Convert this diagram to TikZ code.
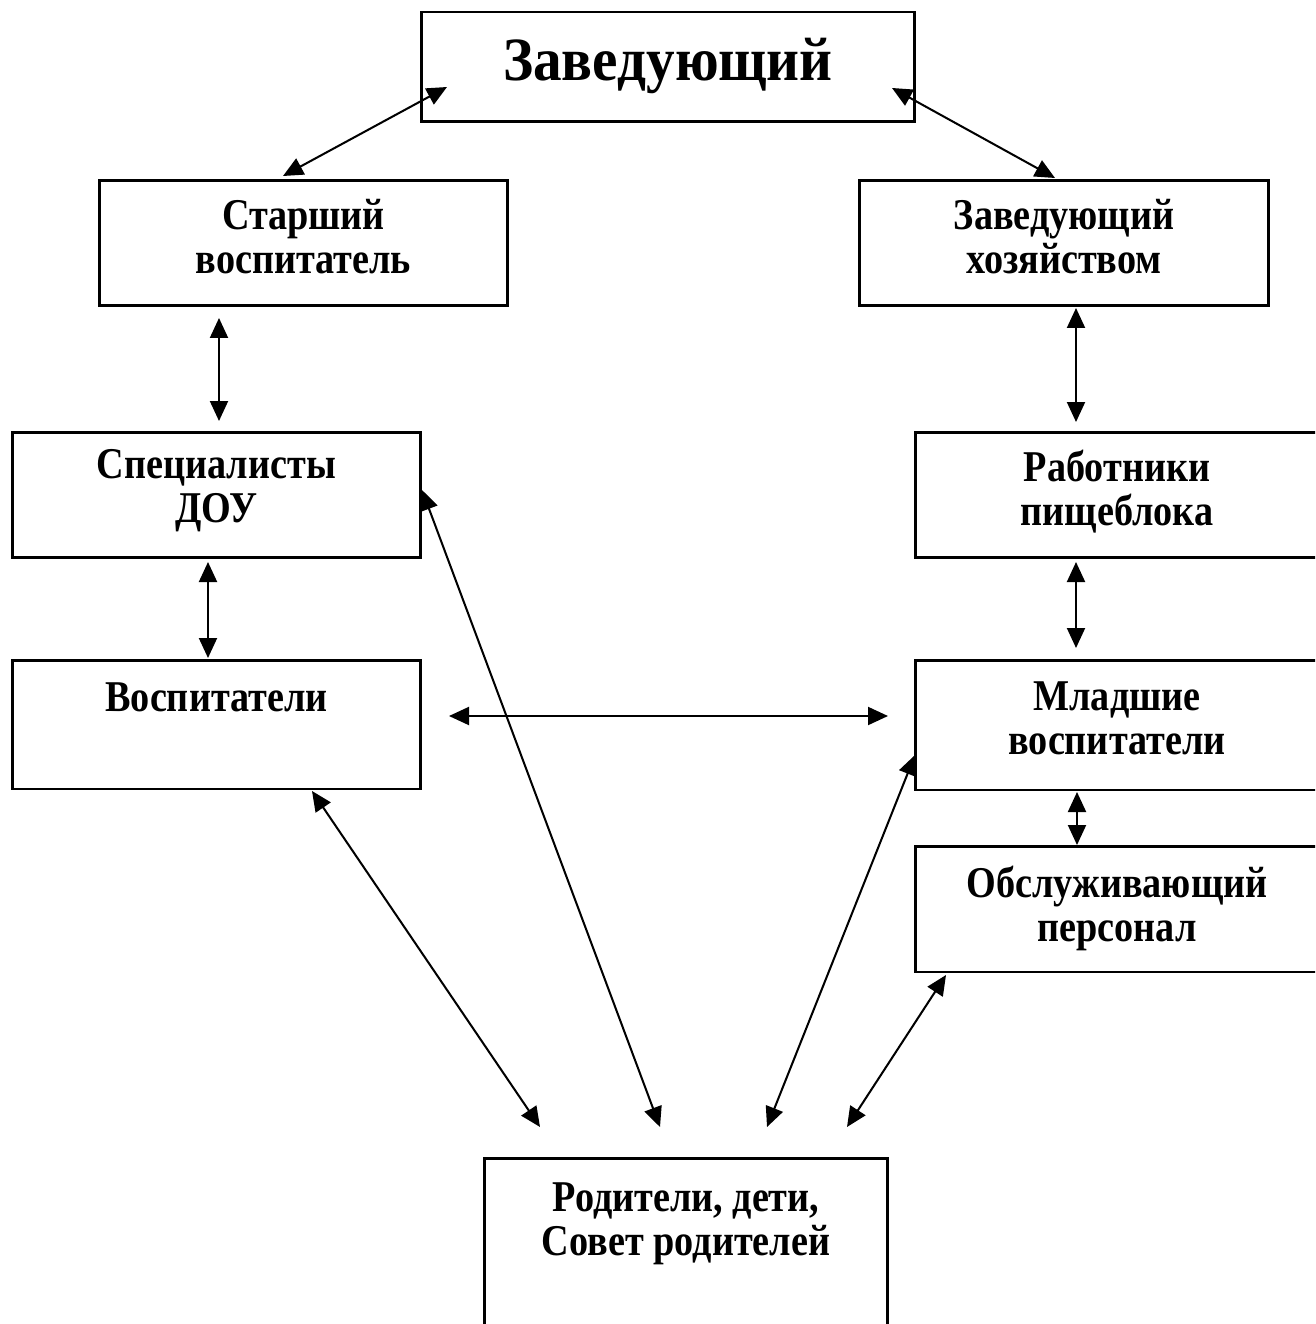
\documentclass[tikz,border=0pt]{standalone}
\usepackage{fontspec}
\setmainfont{Liberation Serif}
\newfontfamily\boxfont[FakeStretch=0.87]{Liberation Serif}
\newfontfamily\headfont[FakeStretch=0.93]{Liberation Serif}
\usetikzlibrary{arrows.meta, positioning, calc}

\begin{document}
\begin{tikzpicture}[x=0.02cm, y=-0.02cm,
        box/.style={draw, line width=1.7pt, minimum width=8.18cm, minimum height=2.52cm, inner sep=0pt},
        lbl/.style={align=center, inner sep=0pt, font=\boxfont\bfseries\fontsize{25}{25}\selectfont},
        link/.style={line width=1.15pt, arrows={Triangle[length=0.4cm, width=0.36cm]-Triangle[length=0.4cm, width=0.36cm]}}]
    \useasboundingbox (0, 0) rectangle (1315, 1324);
    \clip (0, 0) rectangle (1315, 1324);
    % boxes
    \node [box, minimum width=9.88cm, minimum height=2.2cm] (zav) at (668, 67) {};
    \node [box] (star) at (303.5, 243) {};
    \node [box] (hoz) at (1064, 243) {};
    \node [box] (spec) at (216.5, 495) {};
    \node [box, minimum width=8.08cm] (rab) at (1117, 495) {};
    \node [box, minimum height=2.58cm] (vosp) at (216.5, 724.5) {};
    \node [box, minimum width=8.08cm, minimum height=2.6cm] (mlad) at (1117, 725) {};
    \node [box, minimum width=8.08cm] (obsl) at (1117, 909) {};
    \node [box, minimum width=8.08cm, minimum height=3.44cm] (rod) at (686, 1244) {};
    % texts
    \node [lbl, font=\headfont\bfseries\fontsize{35}{36}\selectfont, below=0.54cm of zav.north] {Заведующий};
    \node [lbl, below=0.4cm of star.north] {Старший\\воспитатель};
    \node [lbl, below=0.4cm of hoz.north] {Заведующий\\хозяйством};
    \node [lbl, below=0.38cm of spec.north] {Специалисты\\ДОУ};
    \node [lbl, below=0.38cm of rab.north] {Работники\\пищеблока};
    \node [lbl, below=0.48cm of vosp.north] {Воспитатели};
    \node [lbl, below=0.46cm of mlad.north] {Младшие\\воспитатели};
    \node [lbl, below=0.42cm of obsl.north] {Обслуживающий\\персонал};
    \node [lbl, below=0.52cm of rod.north] {Родители, дети,\\Совет родителей};
    % arrow ends
    \coordinate (zavL) at (447, 87);
    \coordinate (starUp) at (283, 176);
    \coordinate (zavR) at (892, 88);
    \coordinate (hozUp) at (1055, 178);
    \coordinate (starDn) at (219, 318);
    \coordinate (specUp) at (219, 421);
    \coordinate (hozDn) at (1076, 308);
    \coordinate (rabUp) at (1076, 422);
    \coordinate (specDn) at (208, 562);
    \coordinate (vospUp) at (208, 658);
    \coordinate (rabDn) at (1076, 562);
    \coordinate (mladUp) at (1076, 648);
    \coordinate (vospR) at (449, 716);
    \coordinate (mladL) at (888, 716);
    \coordinate (mladDn) at (1077, 792);
    \coordinate (obslUp) at (1077, 845);
    \coordinate (vospDn) at (312, 791);
    \coordinate (specR) at (422, 490);
    \coordinate (mladSW) at (915, 755);
    \coordinate (obslSW) at (946, 975);
    \coordinate (rodA) at (540, 1127);
    \coordinate (rodB) at (660, 1127);
    \coordinate (rodC) at (767, 1127);
    \coordinate (rodD) at (847, 1127);
    % links
    \draw [link] (zavL) -- (starUp);
    \draw [link] (zavR) -- (hozUp);
    \draw [link] (starDn) -- (specUp);
    \draw [link] (hozDn) -- (rabUp);
    \draw [link] (specDn) -- (vospUp);
    \draw [link] (rabDn) -- (mladUp);
    \draw [link] (vospR) -- (mladL);
    \draw [link] (mladDn) -- (obslUp);
    \draw [link] (vospDn) -- (rodA);
    \draw [link] (specR) -- (rodB);
    \draw [link] (mladSW) -- (rodC);
    \draw [link] (obslSW) -- (rodD);
\end{tikzpicture}
\end{document}
